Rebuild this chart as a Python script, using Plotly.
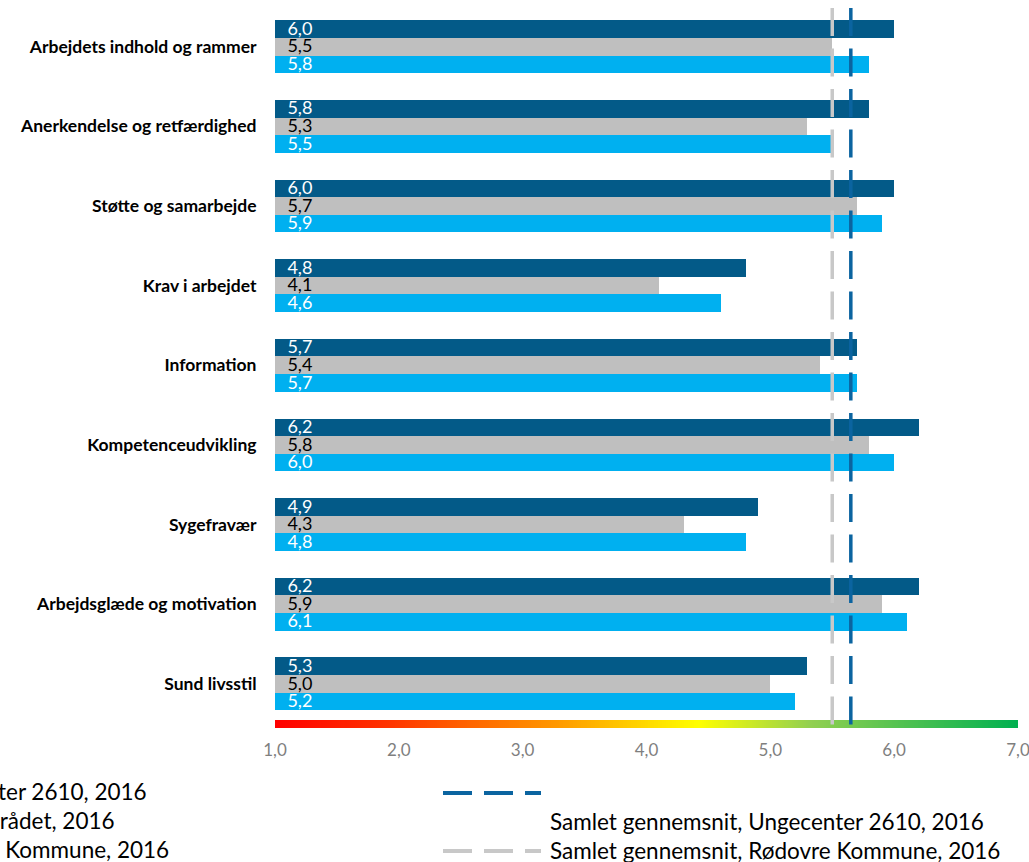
import numpy as np
import plotly.graph_objects as go

# Survey dimensions (top to bottom)
categories = [
    "Arbejdets indhold og rammer",
    "Anerkendelse og retfærdighed",
    "Støtte og samarbejde",
    "Krav i arbejdet",
    "Information",
    "Kompetenceudvikling",
    "Sygefravær",
    "Arbejdsglæde og motivation",
    "Sund livsstil",
]

# Average score per dimension for each unit
ungecenter = [6.0, 5.8, 6.0, 4.8, 5.7, 6.2, 4.9, 6.2, 5.3]
rodovre = [5.5, 5.3, 5.7, 4.1, 5.4, 5.8, 4.3, 5.9, 5.0]
omraadet = [5.8, 5.5, 5.9, 4.6, 5.7, 6.0, 4.8, 6.1, 5.2]

# Overall averages shown as dashed reference lines
avg_ungecenter = 5.65
avg_rodovre = 5.5

tick_vals = [1, 2, 3, 4, 5, 6, 7]
tick_text = ["1,0", "2,0", "3,0", "4,0", "5,0", "6,0", "7,0"]

series_names = [
    "Ungecenter 2610, 2016",
    "Børne- og Kulturområdet, 2016",
    "Rødovre Kommune, 2016",
]
avg_names = [
    "Samlet gennemsnit, Ungecenter 2610, 2016",
    "Samlet gennemsnit, Rødovre Kommune, 2016",
]

DARK = "#035A88"
GREY = "#BFBFBF"
LIGHT = "#00B0F0"
LINE_DARK = "#0B64A0"
LINE_GREY = "#C8C8C8"
FONT = "Lato"

# Plot-area geometry in pixels
W, H = 1029, 862
L, R = 275, 11
T, B = 6, 134
plot_w = W - L - R
plot_h = H - T - B
px_per_unit = 79.64
y_top = -(46.7 - T) / px_per_unit
y_bot = y_top + plot_h / px_per_unit
bar_w = 17.6 / px_per_unit
offset = bar_w

pos = np.arange(len(categories), dtype=float)

fig = go.Figure()

bar_series = [
    (ungecenter, DARK, "white", -offset),
    (rodovre, GREY, "black", 0.0),
    (omraadet, LIGHT, "white", offset),
]
for vals, color, _, off in bar_series:
    fig.add_trace(go.Bar(
        x=vals, y=pos + off, orientation="h", width=bar_w,
        marker=dict(color=color, line=dict(width=0)),
        showlegend=False, hoverinfo="x",
    ))

# Colour scale strip along the bottom of the plot
strip_top = y_bot - 8 / px_per_unit
n = 372
edges = np.linspace(1, 7, n + 1)
centers = (edges[:-1] + edges[1:]) / 2
fig.add_trace(go.Heatmap(
    x=edges, y=[strip_top, y_bot], z=[centers],
    zmin=1, zmax=7,
    colorscale=[
        [0.0, "#FF0000"],
        [0.15, "#FF3300"],
        [0.38, "#FF9900"],
        [0.57, "#FFFF00"],
        [0.72, "#92D050"],
        [1.0, "#00B050"],
    ],
    showscale=False, hoverinfo="skip",
))

# Dashed overall-average lines
line_top = -(46.7 - 8) / px_per_unit
for val, color in [(avg_rodovre, LINE_GREY), (avg_ungecenter, LINE_DARK)]:
    fig.add_trace(go.Scatter(
        x=[val, val], y=[line_top, y_bot], mode="lines",
        line=dict(color=color, width=3.5, dash="28px,12.5px"),
        showlegend=False, hoverinfo="skip",
    ))

# Value labels at the start of each bar
for vals, _, tcolor, off in bar_series:
    fig.add_trace(go.Scatter(
        x=[1.1] * len(vals), y=pos + off + 0.015, mode="text",
        text=[f"{v:.1f}".replace(".", ",") for v in vals],
        textposition="middle right",
        textfont=dict(family=FONT, size=18, color=tcolor),
        showlegend=False, hoverinfo="skip",
    ))

def px_x(p):
    return (p - L) / plot_w

def px_y(p):
    return (H - B - p) / plot_h

# Legend block below the chart (drawn manually)
left_rows = [(series_names[0], 149, 791), (series_names[1], 117, 820), (series_names[2], 171, 849)]
for text, xr, yc in left_rows:
    fig.add_annotation(
        x=px_x(xr), y=px_y(yc), xref="paper", yref="paper",
        text=text, showarrow=False, xanchor="right", yanchor="middle",
        font=dict(family=FONT, size=22.5, color="black"),
    )

for text, yc in [(avg_names[0], 821), (avg_names[1], 850)]:
    fig.add_annotation(
        x=px_x(548), y=px_y(yc), xref="paper", yref="paper",
        text=text, showarrow=False, xanchor="left", yanchor="middle",
        font=dict(family=FONT, size=22.5, color="black"),
    )

for color, yc in [(LINE_DARK, 793), (LINE_GREY, 851)]:
    fig.add_shape(
        type="line", xref="paper", yref="paper",
        x0=px_x(443), x1=px_x(541), y0=px_y(yc), y1=px_y(yc),
        line=dict(color=color, width=4, dash="29px,12px"),
    )

fig.update_layout(
    width=W, height=H,
    margin=dict(l=L, r=R, t=T, b=B, autoexpand=False),
    paper_bgcolor="white", plot_bgcolor="white",
    barmode="overlay",
    bargap=0,
    xaxis=dict(
        range=[1, 7], tickvals=tick_vals, ticktext=tick_text,
        showgrid=False, zeroline=False, showline=False,
        ticks="outside", ticklen=7, tickcolor="rgba(0,0,0,0)",
        tickfont=dict(family=FONT, size=17, color="#7F7F7F"),
        ticklabeloverflow="allow", automargin=False,
        fixedrange=True,
    ),
    yaxis=dict(
        range=[y_bot, y_top], tickvals=list(pos), ticktext=categories,
        showgrid=False, zeroline=False, showline=False,
        ticks="outside", ticklen=14, tickcolor="rgba(0,0,0,0)",
        tickfont=dict(family=FONT, size=17.5, color="black", weight="bold"),
        automargin=False,
        fixedrange=True,
    ),
    font=dict(family=FONT),
)

fig.write_html("out.html")
